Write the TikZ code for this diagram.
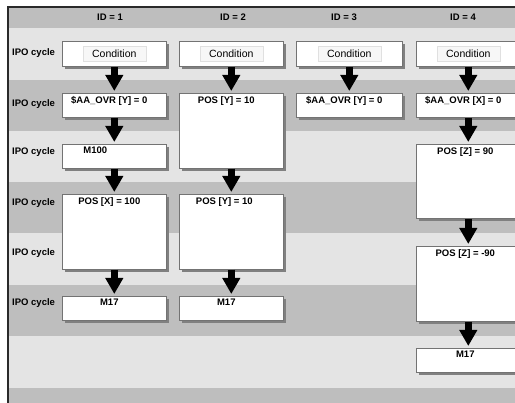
\documentclass[tikz,border=0pt]{standalone}
\usepackage{fontspec}
\setmainfont{Liberation Sans}
\usetikzlibrary{arrows.meta, positioning, calc, shadows}
\definecolor{bandhi}{HTML}{BEBEBE}
\definecolor{bandlo}{HTML}{E4E4E4}
\definecolor{framec}{HTML}{2A2A2A}
\definecolor{shade}{HTML}{808080}

\begin{document}
\begin{tikzpicture}[x=1pt, y=-1pt,
    every node/.style={font=\bfseries\fontsize{9.5}{11}\selectfont, inner sep=1pt},
    hdr/.style={font=\bfseries\fontsize{9.5}{11}\selectfont, text=black},
    rowlab/.style={anchor=west, font=\bfseries\fontsize{9.5}{11}\selectfont},
    blk/.style={rectangle, draw=black!55, line width=0.6pt, fill=white,
                anchor=north west, minimum width=104pt, inner sep=0pt,
                drop shadow={shadow xshift=3pt, shadow yshift=-3pt,
                             fill=shade, opacity=1}},
    condtag/.style={rectangle, draw=black!12, fill=black!3, line width=0.4pt,
                    minimum width=63pt, minimum height=15pt,
                    font=\fontsize{10.5}{12}\selectfont},
    boxtxt/.style={anchor=north, font=\bfseries\fontsize{9.5}{11}\selectfont},
    arr/.style={draw=black, line width=7pt,
                -{Triangle[width=17pt, length=16pt]}, shorten >=2pt},
]
\useasboundingbox (0,0) rectangle (515,403);

% ================================================================ bands
\fill[bandhi] (8,7)   rectangle (515,28);
\fill[bandlo] (8,28)  rectangle (515,80);
\fill[bandhi] (8,80)  rectangle (515,131);
\fill[bandlo] (8,131) rectangle (515,182);
\fill[bandhi] (8,182) rectangle (515,233);
\fill[bandlo] (8,233) rectangle (515,285);
\fill[bandhi] (8,285) rectangle (515,336);
\fill[bandlo] (8,336) rectangle (515,388);
\fill[bandhi] (8,388) rectangle (515,403);
\draw[framec, line width=1.5pt] (8,403) -- (8,7) -- (515,7);

\node[hdr] (id1) at (110,17.5) {ID = 1};
\node[hdr] (id2) at (233,17.5) {ID = 2};
\node[hdr] (id3) at (344,17.5) {ID = 3};
\node[hdr] (id4) at (463,17.5) {ID = 4};

\node[rowlab] (ipo1) at (11,53)  {IPO cycle};
\node[rowlab] (ipo2) at (11,104) {IPO cycle};
\node[rowlab] (ipo3) at (11,152) {IPO cycle};
\node[rowlab] (ipo4) at (11,203) {IPO cycle};
\node[rowlab] (ipo5) at (11,253) {IPO cycle};
\node[rowlab] (ipo6) at (11,303) {IPO cycle};

% ================================================================ conditions
\node[blk, minimum height=25pt] (cond1) at (62,41) {};
\node[blk, minimum height=25pt] (cond2) at (179,41) {};
\node[blk, minimum height=25pt, minimum width=106pt] (cond3) at (296,41) {};
\node[blk, minimum height=25pt] (cond4) at (416,41) {};
\node[condtag] (cond1t) at (cond1) {Condition};
\node[condtag] (cond2t) at (cond2) {Condition};
\node[condtag] (cond3t) at (cond3) {Condition};
\node[condtag] (cond4t) at (cond4) {Condition};

% ================================================================ blocks
\node[blk, minimum height=24pt] (ovr1) at (62,93) {};
\node[blk, minimum height=75pt] (posy2) at (179,93) {};
\node[blk, minimum height=24pt, minimum width=106pt] (ovr3) at (296,93) {};
\node[blk, minimum height=24pt] (ovr4) at (416,93) {};

\node[blk, minimum height=24pt] (mhun1) at (62,144) {};
\node[blk, minimum height=74pt] (posz4) at (416,144) {};

\node[blk, minimum height=75pt] (posx1) at (62,194) {};
\node[blk, minimum height=75pt] (posyb2) at (179,194) {};
\node[blk, minimum height=75pt] (posnz4) at (416,246) {};

\node[blk, minimum height=24pt] (mend1) at (62,296) {};
\node[blk, minimum height=24pt] (mend2) at (179,296) {};
\node[blk, minimum height=24pt] (mend4) at (416,348) {};

\node[boxtxt] (ovr1t)   at ([xshift=-5pt, yshift=-2pt]ovr1.north)   {\$AA\_OVR [Y] = 0};
\node[boxtxt] (posy2t)  at ([xshift=-5pt, yshift=-2pt]posy2.north)  {POS [Y] = 10};
\node[boxtxt] (ovr3t)   at ([xshift=-5pt, yshift=-2pt]ovr3.north)   {\$AA\_OVR [Y] = 0};
\node[boxtxt] (ovr4t)   at ([xshift=-5pt, yshift=-2pt]ovr4.north)   {\$AA\_OVR [X] = 0};
\node[boxtxt] (mhun1t)  at ([xshift=-19pt, yshift=-2pt]mhun1.north) {M100};
\node[boxtxt] (posz4t)  at ([xshift=-3pt, yshift=-2pt]posz4.north)  {POS [Z] = 90};
\node[boxtxt] (posx1t)  at ([xshift=-5pt, yshift=-2pt]posx1.north)  {POS [X] = 100};
\node[boxtxt] (posyb2t) at ([xshift=-7pt, yshift=-2pt]posyb2.north) {POS [Y] = 10};
\node[boxtxt] (posnz4t) at ([xshift=-3pt, yshift=-2pt]posnz4.north) {POS [Z] = -90};
\node[boxtxt] (mend1t)  at ([xshift=-5pt, yshift=-2pt]mend1.north)  {M17};
\node[boxtxt] (mend2t)  at ([xshift=-5pt, yshift=-2pt]mend2.north)  {M17};
\node[boxtxt] (mend4t)  at ([xshift=-3pt, yshift=-2pt]mend4.north)  {M17};

% ================================================================ arrows
\draw[arr] (cond1.south) -- (ovr1.north);
\draw[arr] (ovr1.south)  -- (mhun1.north);
\draw[arr] (mhun1.south) -- (posx1.north);
\draw[arr] (posx1.south) -- (mend1.north);

\draw[arr] (cond2.south)  -- (posy2.north);
\draw[arr] (posy2.south)  -- (posyb2.north);
\draw[arr] (posyb2.south) -- (mend2.north);

\draw[arr] (cond3.south) -- (ovr3.north);

\draw[arr] (cond4.south)  -- (ovr4.north);
\draw[arr] (ovr4.south)   -- (posz4.north);
\draw[arr] (posz4.south)  -- (posnz4.north);
\draw[arr] (posnz4.south) -- (mend4.north);

\end{tikzpicture}
\end{document}
